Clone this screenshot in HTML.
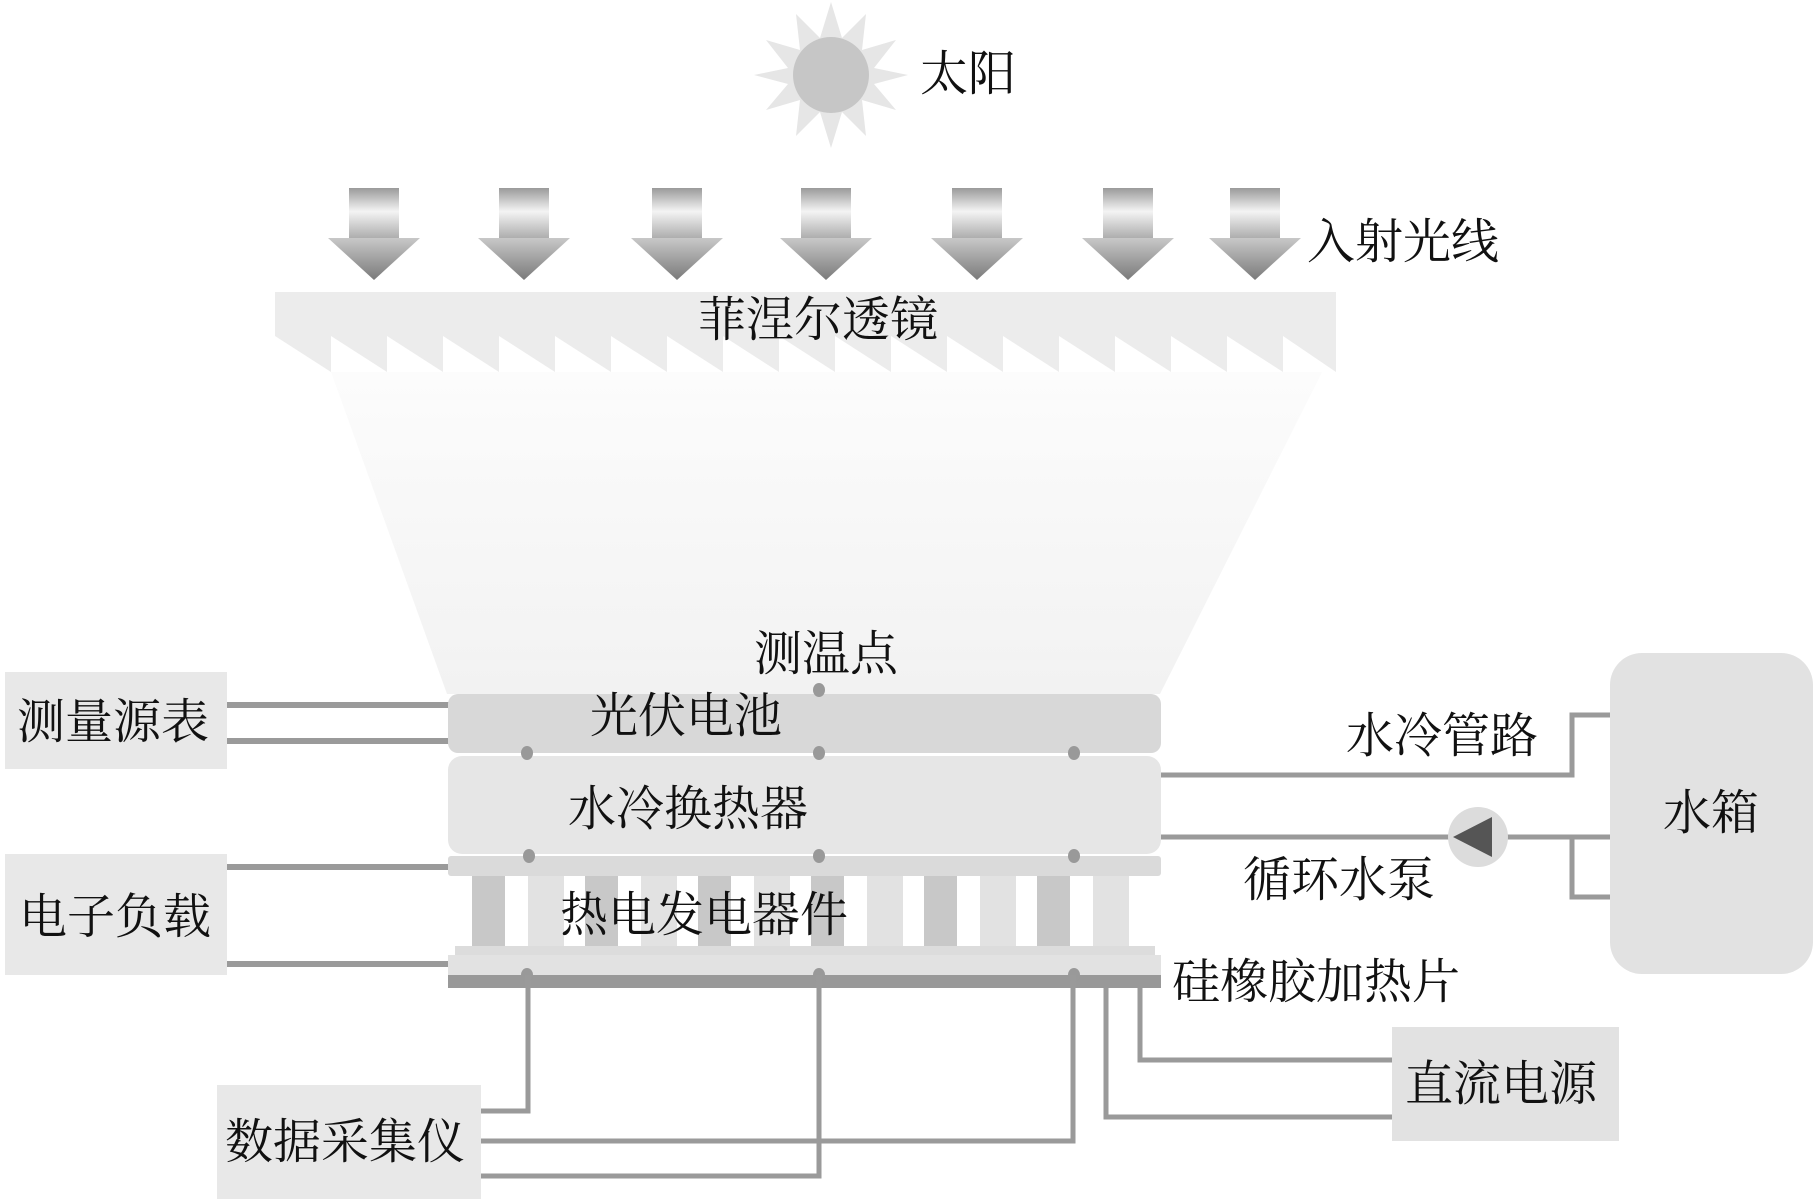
<!DOCTYPE html>
<html><head><meta charset="utf-8"><style>
html,body{margin:0;padding:0;background:#fff}
svg{display:block}
text{font-family:"Liberation Serif","Noto Serif CJK SC",serif;font-size:48px;fill:#111}
</style></head><body>
<svg width="1819" height="1199" viewBox="0 0 1819 1199" xmlns="http://www.w3.org/2000/svg">
<defs>
<linearGradient id="shaft" x1="0" y1="0" x2="0" y2="1">
<stop offset="0" stop-color="#9a9a9a"/><stop offset="0.45" stop-color="#f4f4f4"/><stop offset="1" stop-color="#a8a8a8"/>
</linearGradient>
<linearGradient id="head" x1="0" y1="0" x2="0" y2="1">
<stop offset="0" stop-color="#c8c8c8"/><stop offset="1" stop-color="#7a7a7a"/>
</linearGradient>
<linearGradient id="cone" x1="0" y1="0" x2="0" y2="1">
<stop offset="0" stop-color="#fcfcfc"/><stop offset="1" stop-color="#f2f2f2"/>
</linearGradient>
<g id="arr">
<rect x="-25" y="188" width="50" height="52" fill="url(#shaft)"/>
<polygon points="-46,238 46,238 0,280" fill="url(#head)"/>
</g>
</defs>
<polygon fill="#e6e6e6" points="
831,2 842,38 866,14 862,50 896,40 874,68 908,75 874,84 896,110 862,100 866,136 842,112 831,148 820,112 796,136 800,100 766,110 788,84 754,75 788,68 766,40 800,50 796,14 820,38"/>
<circle cx="831" cy="75" r="38" fill="#c6c6c6"/>
<text x="920" y="90">太阳</text>
<use href="#arr" x="374"/><use href="#arr" x="524"/><use href="#arr" x="677"/><use href="#arr" x="826"/>
<use href="#arr" x="977"/><use href="#arr" x="1128"/><use href="#arr" x="1255"/>
<text x="1307" y="258">入射光线</text>
<polygon points="331,372 1322,372 1160,694 447,694" fill="url(#cone)"/>
<rect x="275" y="292" width="1061" height="44" fill="#ececec"/>
<polygon fill="#ececec" points="275,336 275,372 275,336 331,372 331,336 387,372 387,336 443,372 443,336 499,372 499,336 555,372 555,336 611,372 611,336 667,372 667,336 723,372 723,336 779,372 779,336 835,372 835,336 891,372 891,336 947,372 947,336 1003,372 1003,336 1059,372 1059,336 1115,372 1115,336 1171,372 1171,336 1227,372 1227,336 1283,372 1283,336 1336,372 1336,336"/>
<text x="698" y="336">菲涅尔透镜</text>
<text x="754" y="670">测温点</text>
<rect x="5" y="672" width="222" height="97" fill="#e8e8e8"/>
<text x="17" y="738">测量源表</text>
<rect x="5" y="854" width="222" height="121" fill="#e8e8e8"/>
<text x="19" y="933">电子负载</text>
<g stroke="#9a9a9a" stroke-width="6" fill="none">
<line x1="227" y1="705" x2="450" y2="705"/>
<line x1="227" y1="741" x2="450" y2="741"/>
<line x1="227" y1="867" x2="450" y2="867"/>
<line x1="227" y1="964" x2="450" y2="964"/>
</g>
<rect x="448" y="694" width="713" height="59" rx="10" fill="#d8d8d8"/>
<rect x="448" y="756" width="713" height="98" rx="14" fill="#e6e6e6"/>
<rect x="448" y="856" width="713" height="20" rx="3" fill="#dadada"/>
<g>
<rect x="472" y="876" width="33" height="75" fill="#c8c8c8"/><rect x="528" y="876" width="36" height="75" fill="#e2e2e2"/>
<rect x="585" y="876" width="33" height="75" fill="#c8c8c8"/><rect x="641" y="876" width="36" height="75" fill="#e2e2e2"/>
<rect x="698" y="876" width="33" height="75" fill="#c8c8c8"/><rect x="754" y="876" width="36" height="75" fill="#e2e2e2"/>
<rect x="811" y="876" width="33" height="75" fill="#c8c8c8"/><rect x="867" y="876" width="36" height="75" fill="#e2e2e2"/>
<rect x="924" y="876" width="33" height="75" fill="#c8c8c8"/><rect x="980" y="876" width="36" height="75" fill="#e2e2e2"/>
<rect x="1037" y="876" width="33" height="75" fill="#c8c8c8"/><rect x="1093" y="876" width="36" height="75" fill="#e2e2e2"/>
</g>
<rect x="455" y="946" width="700" height="12" fill="#dcdcdc"/>
<rect x="448" y="955" width="713" height="20" fill="#e2e2e2"/>
<rect x="448" y="975" width="713" height="13" fill="#999"/>
<text x="590" y="732">光伏电池</text>
<text x="568" y="825">水冷换热器</text>
<text x="560" y="931">热电发电器件</text>
<g fill="#999">
<ellipse cx="819" cy="690" rx="6" ry="7"/>
<ellipse cx="527" cy="753" rx="6" ry="7"/><ellipse cx="819" cy="753" rx="6" ry="7"/><ellipse cx="1074" cy="753" rx="6" ry="7"/>
<ellipse cx="529" cy="856" rx="6" ry="7"/><ellipse cx="819" cy="856" rx="6" ry="7"/><ellipse cx="1074" cy="856" rx="6" ry="7"/>
<ellipse cx="527" cy="975" rx="6" ry="7"/><ellipse cx="819" cy="975" rx="6" ry="7"/><ellipse cx="1074" cy="975" rx="6" ry="7"/>
</g>
<rect x="217" y="1085" width="264" height="114" fill="#e8e8e8"/>
<text x="225" y="1158">数据采集仪</text>
<g stroke="#9a9a9a" stroke-width="5" fill="none">
<polyline points="528,975 528,1111 481,1111"/>
<polyline points="1073,975 1073,1141 481,1141"/>
<polyline points="819,975 819,1176 481,1176"/>
<polyline points="1140,988 1140,1060 1392,1060"/>
<polyline points="1106,988 1106,1117 1392,1117"/>
<polyline points="1161,775 1572,775 1572,715 1610,715"/>
<polyline points="1161,837 1610,837"/>
<polyline points="1500,837 1572,837 1572,897 1610,897"/>
</g>
<rect x="1392" y="1027" width="227" height="114" fill="#e2e2e2"/>
<text x="1405" y="1100">直流电源</text>
<text x="1172" y="998">硅橡胶加热片</text>
<rect x="1610" y="653" width="203" height="321" rx="32" fill="#e2e2e2"/>
<text x="1663" y="829">水箱</text>
<text x="1346" y="752">水冷管路</text>
<text x="1243" y="896">循环水泵</text>
<circle cx="1478" cy="837" r="30" fill="#dcdcdc"/>
<polygon points="1453,837 1492,817 1492,857" fill="#555"/>
</svg>
</body></html>
